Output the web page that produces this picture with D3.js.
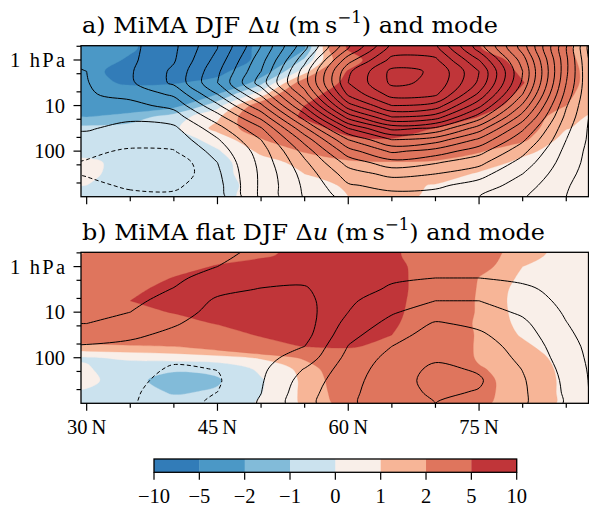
<!DOCTYPE html>
<html><head><meta charset="utf-8">
<script src="https://cdn.jsdelivr.net/npm/d3@7"></script>
<style>body{margin:0;background:#fff}svg{display:block}</style>
</head><body>
<svg id="chart" width="589" height="510"></svg>
<script>
// ---------------- DATA ----------------
// grid latitudes (deg N) and pressure grid rows (log10 hPa, top -> bottom)
const lats = [25, 30, 35, 40, 45, 50, 55, 60, 65, 70, 75, 80, 85, 90];
const logP = [-0.5, -0.25, 0, 0.25, 0.5, 0.75, 1, 1.25, 1.5, 1.75, 2, 2.25, 2.5, 2.75, 3];

// panel a: MiMA DJF delta-u (m/s), rows = logP, cols = lats
const duA = [
  [-3.5,-3.8,-4.8,-6.3,-6.3,-4.8,-2.4,5.3,7.3,6.8,5.0,3.4,2.1,0.8],
  [-3.5,-3.8,-4.7,-6.5,-6.5,-4.6,-2.1,5.3,7.5,7.0,5.1,3.5,2.2,0.8],
  [-3.0,-3.8,-5.3,-7.5,-7.5,-4.2,-0.8,3.5,8.0,8.0,6.5,4.0,2.3,1.0],
  [-2.8,-4.3,-6.0,-7.2,-5.8,-2.8,0.5,5.2,8.5,8.3,7.0,4.6,2.35,1.2],
  [-2.8,-4.4,-5.3,-5.2,-4.2,-1.3,2.8,5.6,8.7,8.5,7.2,5.1,2.3,1.3],
  [-2.6,-3.4,-3.9,-3.3,-2.0,0.5,4.2,6.2,8.8,8.6,7.0,4.5,2.2,1.1],
  [-2.5,-2.7,-2.9,-2.4,-0.4,2.8,5.0,6.8,8.6,8.3,6.4,3.8,2.0,0.9],
  [-2.1,-2.0,-1.5,-0.5,0.8,3.3,5.3,7.0,8.0,7.5,4.9,2.6,1.5,0.3],
  [-0.7,-0.7,-0.6,-0.2,1.3,2.7,4.0,5.9,6.5,4.9,3.6,2.6,1.05,0.5],
  [-0.6,-0.6,-0.7,-0.6,0.4,1.9,3.3,4.5,4.8,4.2,3.0,2.2,0.6,0.3],
  [-0.5,-0.5,-0.7,-0.7,-0.1,1.2,2.1,2.8,3.2,2.9,2.1,1.2,0.6,0.3],
  [0.3,0.3,-0.5,-0.6,-0.3,0.6,1.3,1.8,1.9,1.8,1.4,0.8,0.5,0.3],
  [0.3,0.2,-0.4,-0.5,-0.3,0.5,1.0,1.4,1.5,1.4,0.9,0.6,0.4,0.3],
  [0.1,0.0,-0.3,-0.4,-0.3,0.3,0.7,1.1,1.2,0.95,0.7,0.5,0.35,0.3],
  [-0.2,-0.3,-0.3,-0.35,-0.2,0.25,0.6,1.0,1.15,0.9,0.6,0.45,0.35,0.3]
];
// panel a: mode (contour lines), same grid
const modeA = [
  [1.3,1.5,1.7,2.7,4.7,7.7,11.3,15.2,18.6,18.5,15.0,11.2,6.4,-0.6],
  [1.1,1.3,1.75,2.8,5.0,8.1,11.8,16.0,19.4,19.3,15.6,11.6,6.0,-0.3],
  [0.95,1.1,1.8,2.9,5.4,8.6,12.7,17.6,20.3,20.2,17.0,12.5,6.2,0.0],
  [0.85,1.0,1.9,3.2,5.8,9.0,13.5,18.8,21.25,20.9,18.0,13.0,6.2,0.3],
  [0.8,0.95,1.85,3.2,6.0,9.5,13.6,19.0,21.2,20.8,17.8,12.8,6.0,0.6],
  [0.7,0.9,1.3,2.2,5.0,8.2,12.6,18.2,20.4,20.2,16.8,12.0,5.6,0.9],
  [0.5,0.7,0.7,1.3,3.8,6.8,11.2,16.6,19.0,18.6,15.3,10.8,5.1,1.2],
  [0.3,0.4,0.2,0.5,2.6,5.3,9.5,14.4,17.0,16.5,13.5,9.5,4.7,1.4],
  [0.0,0.1,-0.3,-0.2,1.6,3.9,7.8,12.0,14.3,13.8,11.5,8.2,4.3,1.6],
  [-0.3,-0.3,-0.7,-0.6,0.9,3.0,6.4,10.0,12.0,11.5,9.8,7.2,4.0,1.8],
  [-0.6,-0.85,-1.1,-1.05,0.4,2.5,5.4,8.6,10.2,9.6,8.4,6.3,3.7,1.9],
  [-0.75,-1.05,-1.35,-1.7,0.0,2.3,4.8,7.4,8.6,8.1,7.3,5.6,3.5,2.0],
  [-0.75,-1.05,-1.4,-1.7,-0.2,2.2,4.4,6.5,7.3,7.0,6.4,5.0,3.3,2.0],
  [-0.6,-0.85,-1.1,-1.2,-0.35,2.2,4.2,5.9,6.3,6.2,5.6,4.5,3.1,2.0],
  [-0.4,-0.6,-0.85,-0.8,-0.5,2.2,4.1,5.4,5.7,5.6,5.0,4.1,3.0,2.0]
];
// panel b: MiMA flat DJF delta-u (m/s)
const duB = [
  [1.2,1.8,2.6,3.1,3.7,4.4,5.4,6.0,5.3,3.9,2.7,1.5,0.7,0.3],
  [1.4,2.1,2.8,3.3,4.0,4.7,5.6,6.2,5.3,3.9,2.6,1.4,0.6,0.3],
  [1.8,2.4,3.2,4.0,5.2,5.8,6.3,6.5,5.5,4.1,2.5,1.0,0.5,0.3],
  [2.0,2.6,3.7,5.1,6.0,6.3,6.6,6.6,5.6,4.0,1.95,0.8,0.45,0.3],
  [2.2,2.8,4.6,5.6,6.3,6.5,6.7,6.6,5.6,4.0,1.85,0.6,0.4,0.3],
  [2.3,3.0,5.0,5.7,6.3,6.5,6.6,6.5,5.6,3.8,1.8,0.55,0.35,0.3],
  [2.4,3.0,4.4,5.1,5.8,6.3,6.5,6.4,5.5,3.7,1.8,0.6,0.3,0.3],
  [2.5,3.0,3.6,4.2,5.1,5.9,6.2,6.1,5.3,3.6,1.7,0.75,0.3,0.3],
  [2.5,2.7,3.0,3.4,4.0,5.2,5.7,5.6,5.0,3.5,1.8,0.9,0.3,0.3],
  [1.7,1.8,1.9,2.0,2.7,4.0,5.1,5.2,4.5,3.3,1.8,1.2,0.4,0.3],
  [-0.2,-0.1,0.2,0.4,0.6,1.1,2.2,3.8,4.0,3.2,1.85,1.4,0.7,0.3],
  [0.2,0.1,-0.6,-0.9,-0.8,0.2,1.3,3.3,3.8,3.3,2.1,1.5,0.8,0.3],
  [0.4,0.35,-0.8,-1.3,-1.1,-0.1,1.2,2.9,3.5,3.5,2.3,1.5,0.85,0.3],
  [-0.1,-0.15,-0.6,-1.1,-0.9,-0.05,1.2,2.7,3.5,3.5,2.3,1.5,0.85,0.3],
  [-0.2,-0.3,-0.5,-0.7,-0.6,0.1,1.15,2.5,3.4,3.4,2.2,1.5,0.85,0.3]
];
// panel b: mode (contour lines)
const modeB = [
  [1.5,1.5,1.6,1.6,1.3,0.9,0.7,0.55,0.6,0.5,0.45,0.35,0.3,0.2],
  [1.45,1.45,1.55,1.5,1.15,0.8,0.6,0.55,0.65,0.6,0.55,0.45,0.35,0.2],
  [1.4,1.4,1.5,1.35,1.0,0.6,0.4,0.55,0.75,0.8,0.75,0.6,0.45,0.2],
  [1.35,1.35,1.4,1.15,0.7,0.35,0.2,0.6,0.9,1.0,1.0,0.8,0.55,0.2],
  [1.3,1.3,1.3,0.97,0.25,-0.05,-0.1,0.7,1.1,1.5,1.5,1.2,0.65,0.2],
  [1.25,1.25,1.2,0.7,-0.15,-0.25,-0.3,0.85,1.5,2.0,2.0,1.5,0.75,0.2],
  [1.15,1.15,1.0,0.45,-0.35,-0.35,-0.4,1.0,1.9,2.5,2.4,1.85,0.88,0.2],
  [1.0,1.0,0.6,0.1,-0.5,-0.4,-0.45,1.35,2.3,3.1,2.8,2.2,1.03,0.2],
  [0.5,0.5,0.2,-0.25,-0.6,-0.4,-0.35,1.7,2.65,3.4,3.15,2.45,1.2,0.2],
  [-0.1,-0.1,-0.25,-0.55,-0.7,-0.35,0.0,2.03,3.0,3.65,3.4,2.65,1.4,0.2],
  [-0.4,-0.4,-0.5,-0.85,-0.85,-0.3,0.4,2.3,3.3,3.85,3.6,2.8,1.55,0.2],
  [-0.55,-0.6,-0.7,-1.1,-0.98,-0.2,1.05,2.5,3.5,4.2,3.9,2.97,1.7,0.2],
  [-0.65,-0.7,-0.8,-1.25,-1.1,-0.1,1.4,2.65,3.6,4.3,4.1,3.1,1.8,0.2],
  [-0.7,-0.75,-0.9,-1.3,-1.0,-0.02,1.6,2.75,3.65,4.15,3.95,3.15,1.85,0.2],
  [-0.7,-0.75,-0.95,-1.3,-0.85,0.1,1.7,2.8,3.7,4.0,3.9,3.15,1.9,0.2]
];

const fillLevels = [-10, -5, -2, -1, 0, 1, 2, 5, 10];
const fillColors = ["#327cb8","#4b98c6","#82bbd9","#cbe2ee","#f9efe9","#f7b597","#df755d","#c03539"];
const cbLabels = ["\u221210","\u22125","\u22122","\u22121","0","1","2","5","10"];
const modeLevelsA = [-1,0,1,2,3,4,5,6,7,8,9,10,11,12,13,14,15,16,17,18,19,20,21];
const modeLevelsB = [-1,0,1,2,3,4];

const xMajor = [30, 45, 60, 75];
const xMinor = [35, 40, 50, 55, 65, 70, 80, 85];
const xLabels = ["30\u2009N", "45\u2009N", "60\u2009N", "75\u2009N"];
const yMajor = [1, 10, 100];
const yMinor = [0.5, 2, 5, 20, 50, 200, 500];
const yLabels = ["1 hPa", "10", "100"];
const titles = ["a) MiMA", "b) MiMA flat"];

// ---------------- LAYOUT ----------------
const svg = d3.select("#chart");
const titleFont = "'DejaVu Serif', serif";
const tickFont = "'Liberation Serif', 'DejaVu Serif', serif";
const L = 81, R = 588.5;
const latMin = 29.35, latMax = 87.55;
const pTop = 0.4857, pBot = 1000;
const x = d3.scaleLinear().domain([latMin, latMax]).range([L, R]);

const nx = lats.length, ny = logP.length;
const lineGen = d3.line().curve(d3.curveCatmullRomClosed.alpha(0.5));

function ringsPath(geom, toPx) {
  let d = "";
  geom.coordinates.forEach(poly => poly.forEach(ring => {
    let pts = ring.map(toPx);
    const a = pts[0], b = pts[pts.length - 1];
    if (pts.length > 1 && Math.abs(a[0]-b[0]) < 1e-9 && Math.abs(a[1]-b[1]) < 1e-9) pts = pts.slice(0, -1);
    if (pts.length >= 3) d += lineGen(pts);
  }));
  return d;
}

function panel(idx, top, du, mode, modeLevels, showXLabels) {
  const bottom = top + 151;
  const y = d3.scaleLog().domain([pTop, pBot]).range([top, bottom]);
  const toPx = ([gx, gy]) => {
    const lat = lats[0] + (gx - 0.5) * (lats[1] - lats[0]);
    const lp = logP[0] + (gy - 0.5) * (logP[1] - logP[0]);
    return [x(lat), y(Math.pow(10, lp))];
  };
  const clipId = "clip" + idx;
  svg.append("clipPath").attr("id", clipId).append("rect")
    .attr("x", L).attr("y", top).attr("width", R - L).attr("height", bottom - top);
  const g = svg.append("g").attr("clip-path", `url(#${clipId})`);

  g.append("rect").attr("x", L).attr("y", top).attr("width", R - L).attr("height", bottom - top)
    .attr("fill", fillColors[0]);
  const fills = d3.contours().size([nx, ny]).thresholds(fillLevels.slice(1, -1))(du.flat());
  fills.forEach((c, i) => {
    g.append("path").attr("d", ringsPath(c, toPx)).attr("fill", fillColors[i + 1])
      .attr("fill-rule", "evenodd").attr("stroke", fillColors[i + 1]).attr("stroke-width", 0.3);
  });
  const lines = d3.contours().size([nx, ny]).thresholds(modeLevels)(mode.flat());
  lines.forEach(c => {
    g.append("path").attr("d", ringsPath(c, toPx)).attr("fill", "none")
      .attr("stroke", "#000").attr("stroke-width", 1.0)
      .attr("stroke-dasharray", c.value < 0 ? "4,2.6" : null);
  });

  svg.append("rect").attr("x", L).attr("y", top).attr("width", R - L).attr("height", bottom - top)
    .attr("fill", "none").attr("stroke", "#000").attr("stroke-width", 1.3);

  const tk = svg.append("g").attr("stroke", "#000").attr("stroke-width", 1.2);
  xMajor.forEach(v => tk.append("line").attr("x1", x(v)).attr("x2", x(v)).attr("y1", bottom).attr("y2", bottom + 7.5));
  xMinor.forEach(v => tk.append("line").attr("x1", x(v)).attr("x2", x(v)).attr("y1", bottom).attr("y2", bottom + 4.5));
  yMajor.forEach(v => tk.append("line").attr("x1", L - 7.5).attr("x2", L).attr("y1", y(v)).attr("y2", y(v)));
  yMinor.forEach(v => tk.append("line").attr("x1", L - 4.5).attr("x2", L).attr("y1", y(v)).attr("y2", y(v)));

  yMajor.forEach((v, i) => {
    const t = svg.append("text").attr("x", 65).attr("y", y(v)).attr("dy", "0.34em")
      .attr("text-anchor", "end").attr("font-family", tickFont).attr("font-size", 20.5).text(yLabels[i]);
    if (i === 0) t.attr("textLength", 55).attr("lengthAdjust", "spacing");
  });
  if (showXLabels) {
    xMajor.forEach((v, i) => svg.append("text").attr("x", x(v)).attr("y", bottom + 31)
      .attr("text-anchor", "middle").attr("font-family", tickFont).attr("font-size", 20.5).text(xLabels[i]));
  }

  const t = svg.append("text").attr("x", 82).attr("y", top - 12.5).attr("font-family", titleFont).attr("font-size", 23);
  t.append("tspan").text(titles[idx] + " DJF \u0394");
  t.append("tspan").attr("font-style", "italic").text("u");
  t.append("tspan").text(" (m\u2009s");
  t.append("tspan").attr("font-size", 16).attr("dy", -10).text("\u22121");
  t.append("tspan").attr("dy", 10).text(") and mode");
  t.attr("textLength", idx === 0 ? 416 : 463).attr("lengthAdjust", "spacingAndGlyphs");
}

panel(0, 45.7, duA, modeA, modeLevelsA, false);
panel(1, 252.3, duB, modeB, modeLevelsB, true);

// ---------------- COLORBAR ----------------
const cbL = 154, cbR = 516.7, cbT = 459, cbB = 472.3;
const cbx = d3.scaleLinear().domain([0, fillColors.length]).range([cbL, cbR]);
fillColors.forEach((c, i) => svg.append("rect").attr("x", cbx(i)).attr("y", cbT)
  .attr("width", cbx(i + 1) - cbx(i) + 0.4).attr("height", cbB - cbT).attr("fill", c));
svg.append("rect").attr("x", cbL).attr("y", cbT).attr("width", cbR - cbL).attr("height", cbB - cbT)
  .attr("fill", "none").attr("stroke", "#000").attr("stroke-width", 1.3);
cbLabels.forEach((lab, i) => {
  svg.append("line").attr("x1", cbx(i)).attr("x2", cbx(i)).attr("y1", cbB).attr("y2", cbB + 7.5)
    .attr("stroke", "#000").attr("stroke-width", 1.2);
  svg.append("text").attr("x", cbx(i)).attr("y", 503).attr("text-anchor", "middle")
    .attr("font-family", tickFont).attr("font-size", 20.5).text(lab);
});
</script>
</body></html>
